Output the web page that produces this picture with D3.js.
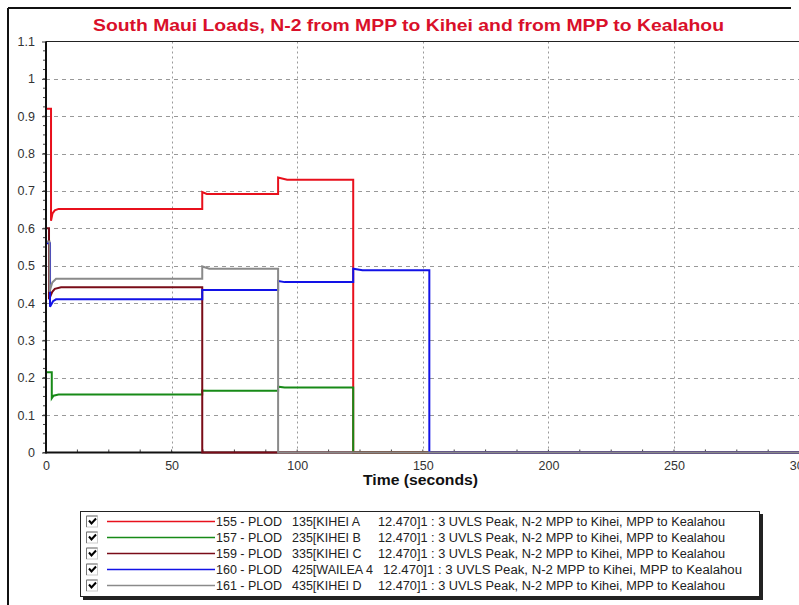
<!DOCTYPE html>
<html><head><meta charset="utf-8">
<script src="https://cdn.jsdelivr.net/npm/d3@7"></script>
<style>
body{margin:0;background:#fff;}
svg{display:block;font-family:Arial,"Liberation Sans",sans-serif;}
</style></head>
<body>
<svg id="c" width="799" height="605"></svg>
<script>
const title = "South Maui Loads, N-2 from MPP to Kihei and from MPP to Kealahou";
const xLabel = "Time (seconds)";
const xTicks = [0, 50, 100, 150, 200, 250, 300];
const yTicks = [0, 0.1, 0.2, 0.3, 0.4, 0.5, 0.6, 0.7, 0.8, 0.9, 1, 1.1];

const names = ["155 - PLOD", "157 - PLOD", "159 - PLOD", "160 - PLOD", "161 - PLOD"];
const buses = ["135[KIHEI A", "235[KIHEI B", "335[KIHEI C", "425[WAILEA 4", "435[KIHEI D"];
const descr = "12.470]1 : 3 UVLS Peak, N-2 MPP to Kihei, MPP to Kealahou";
const colors = ["#e8101c", "#178a17", "#7a0c18", "#1212e6", "#8a8a8a"];

const t155 = [0, 2.0, 2.0, 2.6, 3.5, 5, 62.2, 62.2, 64, 92.4, 92.4, 96, 122.3, 122.3, 300];
const v155 = [0.92, 0.92, 0.62, 0.64, 0.648, 0.652, 0.652, 0.697, 0.692, 0.692, 0.736, 0.73, 0.73, 0, 0];
const t157 = [0, 2.3, 2.3, 3, 5, 62.2, 62.2, 64, 92.4, 92.4, 95, 122.3, 122.3, 300];
const v157 = [0.215, 0.215, 0.145, 0.152, 0.155, 0.155, 0.166, 0.165, 0.165, 0.176, 0.174, 0.174, 0, 0];
const t159 = [0, 1.2, 1.2, 2.5, 3.5, 6, 62.2, 62.2, 300];
const v159 = [0.6, 0.6, 0.41, 0.43, 0.438, 0.442, 0.442, 0, 0];
const t160 = [0, 1.6, 1.6, 2.8, 4, 62.2, 62.2, 92.4, 92.4, 95, 122.3, 122.3, 126, 152.6, 152.6, 300];
const v160 = [0.56, 0.56, 0.39, 0.405, 0.41, 0.41, 0.435, 0.435, 0.459, 0.456, 0.456, 0.492, 0.488, 0.488, 0, 0];
const t161 = [0, 1.4, 1.4, 2.5, 4, 62.2, 62.2, 65, 92.4, 92.4, 300];
const v161 = [0.565, 0.565, 0.43, 0.455, 0.465, 0.465, 0.498, 0.492, 0.492, 0, 0];

const seriesT = [t155, t157, t159, t160, t161];
const seriesV = [v155, v157, v159, v160, v161];

const svg = d3.select("#c");
const x = d3.scaleLinear().domain([0, 300]).range([46, 799.6]);
const y = d3.scaleLinear().domain([0, 1.1]).range([452.5, 41.5]);

// outer frame
svg.append("line").attr("x1", 8).attr("x2", 791).attr("y1", 8).attr("y2", 8).attr("stroke", "#111").attr("stroke-width", 2);
svg.append("line").attr("x1", 8).attr("x2", 8).attr("y1", 8).attr("y2", 605).attr("stroke", "#111").attr("stroke-width", 2);

// title
svg.append("text").attr("x", 93).attr("y", 30.5)
  .attr("font-size", 17).attr("font-weight", "bold").attr("fill", "#d9102a")
  .attr("textLength", 631).attr("lengthAdjust", "spacingAndGlyphs").text(title);

// grid
const g = svg.append("g");
g.selectAll(".hg").data(yTicks.filter(d => d > 0 && d < 1.05)).enter().append("line")
  .attr("x1", x(0)).attr("x2", 799).attr("y1", d => Math.round(y(d)) + 0.5).attr("y2", d => Math.round(y(d)) + 0.5)
  .attr("stroke", "#999").attr("stroke-dasharray", "4,4");
g.selectAll(".vg").data(xTicks.filter(d => d > 0 && d < 300)).enter().append("line")
  .attr("x1", d => Math.round(x(d)) + 0.5).attr("x2", d => Math.round(x(d)) + 0.5).attr("y1", y(1.1)).attr("y2", y(0))
  .attr("stroke", "#999").attr("stroke-dasharray", "2,3");

// top border of plot
svg.append("line").attr("x1", x(0)).attr("x2", 799).attr("y1", y(1.1)).attr("y2", y(1.1)).attr("stroke", "#222").attr("stroke-width", 1.2);

// axes
const xAxis = d3.axisBottom(x).tickValues(xTicks).tickSize(0).tickPadding(9).tickFormat(d3.format("d"));
const xa = svg.append("g").attr("transform", `translate(0,${y(0)})`).call(xAxis);
xa.select(".domain").remove();
xa.selectAll("text").attr("font-size", 12.5).attr("fill", "#333").attr("font-family", "Arial,'Liberation Sans',sans-serif");
const yAxis = d3.axisLeft(y).tickValues(yTicks).tickSize(4).tickPadding(7).tickFormat(d => d3.format("")(+d.toFixed(1)));
const ya = svg.append("g").attr("transform", `translate(${x(0)},0)`).call(yAxis);
ya.select(".domain").remove();
ya.selectAll("line").attr("stroke", "#333");
ya.selectAll("text").attr("font-size", 12.5).attr("fill", "#333").attr("font-family", "Arial,'Liberation Sans',sans-serif");

// minor ticks
const yMinor = d3.range(0, 1.1, 0.025);
svg.append("g").selectAll("line").data(yMinor).enter().append("line")
  .attr("x1", x(0) - 3).attr("x2", x(0)).attr("y1", d => y(d)).attr("y2", d => y(d)).attr("stroke", "#444");
const xMinor = d3.range(0, 300, 12.5);
svg.append("g").selectAll("line").data(xMinor).enter().append("line")
  .attr("x1", d => x(d)).attr("x2", d => x(d)).attr("y1", y(0) - 3).attr("y2", y(0)).attr("stroke", "#444");

// axis line
svg.append("line").attr("x1", x(0)).attr("x2", 799).attr("y1", y(0)).attr("y2", y(0)).attr("stroke", "#111").attr("stroke-width", 2);

// series
const line = d3.line().x(d => x(d[0])).y(d => y(d[1]));
seriesT.forEach((ts, i) => {
  const pts = ts.map((t, j) => [t, seriesV[i][j]]);
  svg.append("path").attr("d", line(pts)).attr("fill", "none").attr("stroke", colors[i]).attr("stroke-width", 2);
});

svg.append("line").attr("x1", x(0)).attr("x2", x(0)).attr("y1", y(1.1)).attr("y2", y(0) + 1).attr("stroke", "#111").attr("stroke-width", 2);

// x label
svg.append("text").attr("x", 363).attr("y", 485)
  .attr("font-size", 14).attr("font-weight", "bold").attr("fill", "#111")
  .attr("textLength", 115).attr("lengthAdjust", "spacingAndGlyphs").text(xLabel);

// legend
const lg = svg.append("g");
lg.append("rect").attr("x", 83).attr("y", 514).attr("width", 680).attr("height", 86).attr("fill", "#222");
lg.append("rect").attr("x", 80.5).attr("y", 511.5).attr("width", 679).attr("height", 85).attr("fill", "#fff").attr("stroke", "#222");
const rowY = [521.5, 537.5, 553.5, 569.5, 585.5];
const col3Len = [347, 347, 347, 359, 347];
names.forEach((n, i) => {
  const cy = rowY[i];
  const r = lg.append("g");
  r.append("rect").attr("x", 86.5).attr("y", cy - 5.5).attr("width", 11).attr("height", 11).attr("fill", "#fff").attr("stroke", "#ccc");
  r.append("path").attr("d", `M86.5,${cy + 5.5}V${cy - 5.5}H97.5`).attr("fill", "none").attr("stroke", "#777");
  r.append("path").attr("d", `M89,${cy - 1}L91.5,${cy + 2}L96,${cy - 3}`).attr("fill", "none").attr("stroke", "#000").attr("stroke-width", 2);
  r.append("line").attr("x1", 107).attr("x2", 215).attr("y1", cy).attr("y2", cy).attr("stroke", colors[i]).attr("stroke-width", 1.5);
  r.append("text").attr("x", 216).attr("y", cy + 4.5).attr("font-size", 12.5).attr("fill", "#222").text(n);
  r.append("text").attr("x", 292).attr("y", cy + 4.5).attr("font-size", 12.5).attr("fill", "#222").text(buses[i]);
  r.append("text").attr("x", i === 3 ? 383 : 378).attr("y", cy + 4.5).attr("font-size", 12.5).attr("fill", "#222")
    .attr("textLength", col3Len[i]).attr("lengthAdjust", "spacingAndGlyphs").text(descr);
});
</script>
</body></html>
